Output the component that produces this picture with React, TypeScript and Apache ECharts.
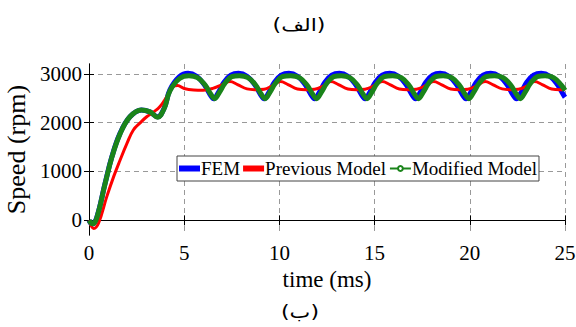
import React, { useEffect, useRef } from "react";
import * as echarts from "echarts";

// time (ms) and speed (rpm)
const femT = [0, 0.15, 0.4, 0.84, 1.2, 1.63, 2.15, 2.75, 3.2, 3.6, 3.95, 4.25, 4.75, 5.2, 5.65, 6.05, 6.35, 6.55, 6.8, 7.1, 7.45, 7.85, 8.3, 8.7, 9.0, 9.2, 9.45, 9.75, 10.1, 10.5, 10.95, 11.35, 11.65, 11.85, 12.1, 12.4, 12.75, 13.15, 13.6, 14.0, 14.3, 14.5, 14.75, 15.05, 15.4, 15.8, 16.25, 16.65, 16.95, 17.15, 17.4, 17.7, 18.05, 18.45, 18.9, 19.3, 19.6, 19.8, 20.05, 20.35, 20.7, 21.1, 21.55, 21.95, 22.25, 22.45, 22.7, 23.0, 23.35, 23.75, 24.2, 24.6, 24.9, 25.0];
const femV = [0, -80, 50, 750, 1300, 1780, 2120, 2260, 2220, 2120, 2300, 2670, 2940, 3010, 2950, 2780, 2580, 2490, 2620, 2830, 2970, 3010, 2950, 2780, 2580, 2490, 2620, 2830, 2970, 3010, 2950, 2780, 2580, 2490, 2620, 2830, 2970, 3010, 2950, 2780, 2580, 2490, 2620, 2830, 2970, 3010, 2950, 2780, 2580, 2490, 2620, 2830, 2970, 3010, 2950, 2780, 2580, 2490, 2620, 2830, 2970, 3010, 2950, 2780, 2580, 2490, 2620, 2830, 2970, 3010, 2950, 2780, 2580, 2520];

const prevT = [0, 0.25, 0.5, 0.93, 1.3, 1.63, 2.0, 2.33, 2.7, 3.03, 3.4, 3.73, 4.1, 4.43, 4.65, 5.0, 5.5, 6.0, 6.5, 7.0, 7.4, 7.8, 8.3, 8.7, 9.2, 9.6, 10.05, 10.45, 10.95, 11.4, 11.85, 12.3, 12.7, 13.1, 13.6, 14.05, 14.5, 14.95, 15.4, 15.8, 16.3, 16.75, 17.2, 17.65, 18.1, 18.5, 19.0, 19.45, 19.9, 20.35, 20.8, 21.2, 21.7, 22.1, 22.55, 23.0, 23.4, 23.8, 24.3, 24.75, 25.0];
const prevV = [0, -165, -60, 480, 900, 1230, 1580, 1850, 2000, 2120, 2220, 2330, 2540, 2740, 2760, 2700, 2670, 2665, 2700, 2780, 2840, 2780, 2690, 2675, 2685, 2750, 2840, 2780, 2690, 2675, 2685, 2750, 2840, 2780, 2690, 2675, 2685, 2750, 2840, 2780, 2690, 2675, 2685, 2750, 2840, 2780, 2690, 2675, 2685, 2750, 2840, 2780, 2690, 2675, 2685, 2750, 2840, 2780, 2690, 2675, 2685];

const modT = [0, 0.18, 0.4, 0.84, 1.2, 1.63, 2.15, 2.75, 3.2, 3.6, 3.95, 4.25, 4.75, 5.25, 5.7, 6.1, 6.4, 6.6, 6.85, 7.15, 7.5, 7.9, 8.35, 8.75, 9.05, 9.25, 9.5, 9.8, 10.15, 10.6, 11.05, 11.45, 11.75, 11.95, 12.2, 12.5, 12.85, 13.25, 13.7, 14.1, 14.4, 14.6, 14.85, 15.15, 15.5, 15.95, 16.4, 16.8, 17.1, 17.3, 17.55, 17.85, 18.2, 18.6, 19.05, 19.45, 19.75, 19.95, 20.2, 20.5, 20.85, 21.3, 21.75, 22.15, 22.45, 22.65, 22.9, 23.2, 23.55, 23.95, 24.4, 24.8, 25.0];
const modV = [0, -70, 40, 740, 1290, 1770, 2120, 2260, 2220, 2110, 2290, 2650, 2900, 2960, 2920, 2770, 2580, 2490, 2620, 2810, 2940, 2960, 2920, 2770, 2580, 2490, 2620, 2810, 2940, 2960, 2920, 2770, 2580, 2490, 2620, 2810, 2940, 2960, 2920, 2770, 2580, 2490, 2620, 2810, 2940, 2960, 2920, 2770, 2580, 2490, 2620, 2810, 2940, 2960, 2920, 2770, 2580, 2490, 2620, 2810, 2940, 2960, 2920, 2770, 2580, 2490, 2620, 2810, 2940, 2960, 2920, 2770, 2660];

const yTicks = [0, 1000, 2000, 3000];
const seriesNames = ["FEM", "Previous Model", "Modified Model"];
const xLabel = "time (ms)";
const yLabel = "Speed (rpm)";
const topTitle = "(الف)";
const bottomTitle = "(ب)";

const zip = (t: number[], v: number[]) => t.map((x, i) => [x, v[i]]);

const FONT = "Liberation Serif";

export default function App() {
  const ref = useRef<HTMLDivElement>(null);
  useEffect(() => {
    if (!ref.current) return;
    const chart = echarts.init(ref.current, null, { renderer: "svg" });
    const axisCommon = {
      axisLine: { show: true, lineStyle: { color: "#000", width: 1 } },
      axisTick: { show: true, inside: true, length: 5, lineStyle: { color: "#000" } },
    };
    const yTickCommon = {
      axisLine: { show: true, lineStyle: { color: "#000", width: 1 } },
      axisTick: { show: true, inside: true, length: 5, lineStyle: { color: "#000" }, customValues: yTicks },
    };
    chart.setOption({
      animation: false,
      backgroundColor: "#fff",
      grid: { left: 89, right: 11, top: 64, bottom: 92, show: false, containLabel: false, outerBoundsMode: "none" },
      graphic: [
        { type: "text", x: 299, y: 25, scaleX: 1.3, style: { text: topTitle, align: "center", verticalAlign: "middle", font: "17px DejaVu Sans", fill: "#000" } },
        { type: "text", x: 300, y: 312, scaleX: 1.3, style: { text: bottomTitle, align: "center", verticalAlign: "middle", font: "17px DejaVu Sans", fill: "#000" } },
      ],
      xAxis: [
        {
          type: "value", min: 0, max: 25, interval: 5,
          ...axisCommon,
          axisLabel: { color: "#000", fontFamily: FONT, fontSize: 21, margin: 7 },
          splitLine: { show: true, lineStyle: { color: "#999", type: [5, 4], width: 1 } },
          name: xLabel, nameLocation: "middle", nameGap: 28,
          nameTextStyle: { color: "#000", fontFamily: FONT, fontSize: 23, verticalAlign: "top" },
        },
        {
          type: "value", min: 0, max: 25, interval: 5, position: "top",
          ...axisCommon, axisLabel: { show: false }, splitLine: { show: false },
        },
      ],
      yAxis: [
        {
          type: "value", min: -300, max: 3200,
          ...yTickCommon,
          axisLabel: { color: "#000", fontFamily: FONT, fontSize: 21, margin: 7, customValues: yTicks, formatter: (v: number) => String(v) },
          splitLine: { show: true, lineStyle: { color: "#999", type: [5, 4], width: 1 } },
          name: yLabel, nameLocation: "middle", nameGap: 50,
          nameTextStyle: { color: "#000", fontFamily: FONT, fontSize: 26 },
        },
        {
          type: "value", min: -300, max: 3200, position: "right",
          ...yTickCommon, axisLabel: { show: false }, splitLine: { show: false },
        },
      ],
      legend: {
        left: 177, top: 156,
        orient: "horizontal",
        itemGap: 3, itemWidth: 21, itemHeight: 6,
        padding: [3, 2, 3, 2],
        borderColor: "#444", borderWidth: 1, backgroundColor: "#fff",
        textStyle: { color: "#000", fontFamily: FONT, fontSize: 19, padding: [0, 0, 0, -4] },
        data: [
          { name: seriesNames[0], icon: "rect", itemStyle: { color: "#0000ff" } },
          { name: seriesNames[1], icon: "rect", itemStyle: { color: "#ff0000" } },
          { name: seriesNames[2] },
        ],
      },
      series: [
        {
          name: seriesNames[0], type: "line", data: zip(femT, femV), smooth: 0.4,
          showSymbol: false, symbol: "none",
          lineStyle: { color: "#0000ff", width: 5 }, itemStyle: { color: "#0000ff" },
        },
        {
          name: seriesNames[1], type: "line", data: zip(prevT, prevV), smooth: 0.4,
          showSymbol: false, symbol: "none",
          lineStyle: { color: "#ff0000", width: 3 }, itemStyle: { color: "#ff0000" },
        },
        {
          name: seriesNames[2], type: "line", data: zip(modT, modV), smooth: 0.4,
          showSymbol: false, symbol: "emptyCircle", symbolSize: 5,
          lineStyle: { color: "#1a841a", width: 5 }, itemStyle: { color: "#1a841a", borderColor: "#1a841a" },
        },
      ],
    });
    return () => chart.dispose();
  }, []);
  return <div ref={ref} style={{ width: 576, height: 327, position: "absolute", left: 0, top: 0 }} />;
}
